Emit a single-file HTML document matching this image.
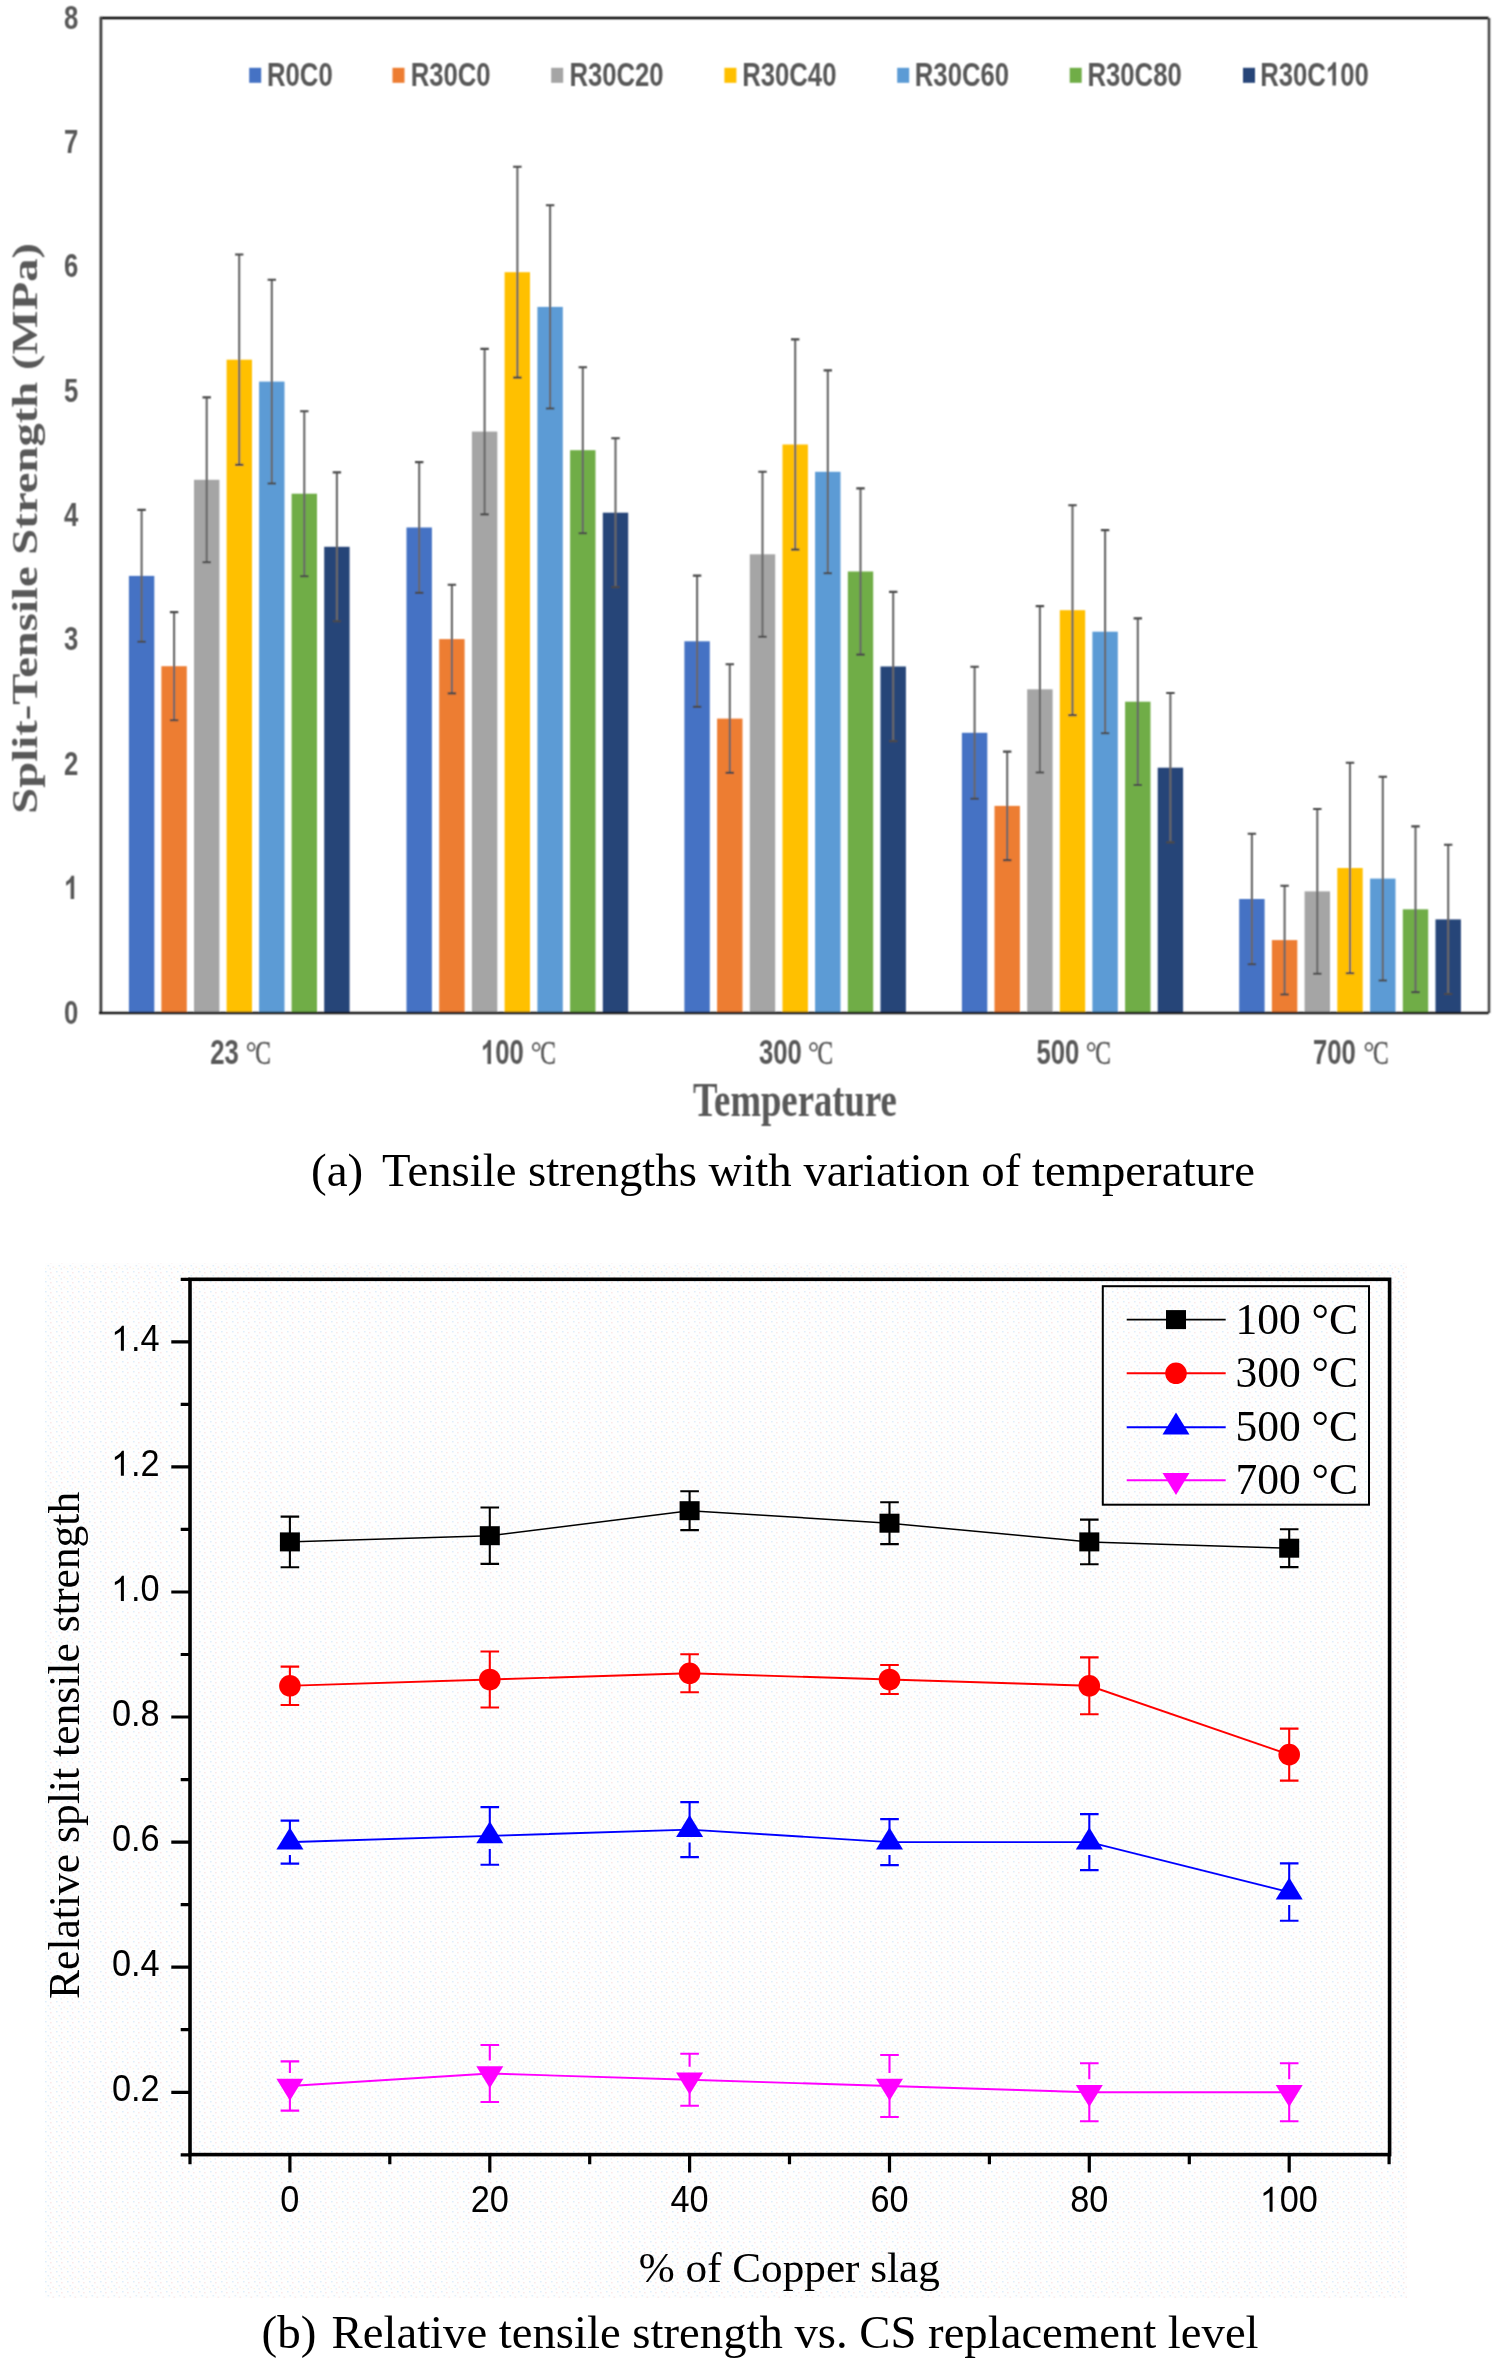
<!DOCTYPE html><html><head><meta charset="utf-8"><style>html,body{margin:0;padding:0;background:#fff;}svg{display:block;}</style></head><body>
<svg width="1494" height="2362" viewBox="0 0 1494 2362">
<rect x="0" y="0" width="1494" height="2362" fill="#ffffff"/>
<defs><filter id="soft" x="-2%" y="-2%" width="104%" height="104%"><feConvolveMatrix order="3" kernelMatrix="1 2 1 2 4 2 1 2 1" divisor="16" edgeMode="duplicate"/></filter></defs>
<g filter="url(#soft)">
<rect x="128.9" y="575.9" width="25.4" height="437.1" fill="#4472C4"/>
<rect x="161.4" y="666.2" width="25.4" height="346.8" fill="#ED7D31"/>
<rect x="194.0" y="479.8" width="25.4" height="533.2" fill="#A5A5A5"/>
<rect x="226.6" y="359.7" width="25.4" height="653.3" fill="#FFC000"/>
<rect x="259.1" y="381.6" width="25.4" height="631.4" fill="#5B9BD5"/>
<rect x="291.6" y="493.7" width="25.4" height="519.3" fill="#70AD47"/>
<rect x="324.2" y="546.8" width="25.4" height="466.2" fill="#264478"/>
<rect x="406.5" y="527.5" width="25.4" height="485.5" fill="#4472C4"/>
<rect x="439.2" y="639.1" width="25.4" height="373.9" fill="#ED7D31"/>
<rect x="471.9" y="431.6" width="25.4" height="581.4" fill="#A5A5A5"/>
<rect x="504.6" y="272.2" width="25.4" height="740.8" fill="#FFC000"/>
<rect x="537.4" y="306.9" width="25.4" height="706.1" fill="#5B9BD5"/>
<rect x="570.1" y="450.2" width="25.4" height="562.8" fill="#70AD47"/>
<rect x="602.8" y="512.7" width="25.4" height="500.3" fill="#264478"/>
<rect x="684.4" y="641.3" width="25.4" height="371.7" fill="#4472C4"/>
<rect x="717.1" y="718.6" width="25.4" height="294.4" fill="#ED7D31"/>
<rect x="749.8" y="554.3" width="25.4" height="458.7" fill="#A5A5A5"/>
<rect x="782.5" y="444.5" width="25.4" height="568.5" fill="#FFC000"/>
<rect x="815.1" y="471.8" width="25.4" height="541.2" fill="#5B9BD5"/>
<rect x="847.8" y="571.5" width="25.4" height="441.5" fill="#70AD47"/>
<rect x="880.5" y="666.5" width="25.4" height="346.5" fill="#264478"/>
<rect x="961.9" y="732.8" width="25.4" height="280.2" fill="#4472C4"/>
<rect x="994.5" y="805.9" width="25.4" height="207.1" fill="#ED7D31"/>
<rect x="1027.2" y="689.3" width="25.4" height="323.7" fill="#A5A5A5"/>
<rect x="1059.8" y="610.2" width="25.4" height="402.8" fill="#FFC000"/>
<rect x="1092.4" y="631.7" width="25.4" height="381.3" fill="#5B9BD5"/>
<rect x="1125.1" y="701.7" width="25.4" height="311.3" fill="#70AD47"/>
<rect x="1157.7" y="767.7" width="25.4" height="245.3" fill="#264478"/>
<rect x="1239.2" y="899.0" width="25.4" height="114.0" fill="#4472C4"/>
<rect x="1271.9" y="940.1" width="25.4" height="72.9" fill="#ED7D31"/>
<rect x="1304.6" y="891.4" width="25.4" height="121.6" fill="#A5A5A5"/>
<rect x="1337.3" y="868.0" width="25.4" height="145.0" fill="#FFC000"/>
<rect x="1370.1" y="878.6" width="25.4" height="134.4" fill="#5B9BD5"/>
<rect x="1402.8" y="909.3" width="25.4" height="103.7" fill="#70AD47"/>
<rect x="1435.5" y="919.4" width="25.4" height="93.6" fill="#264478"/>
<path d="M141.6 509.9V641.8 M174.1 612.1V720.3 M206.7 397.4V562.2 M239.2 254.5V464.9 M271.8 279.8V483.5 M304.3 411.2V576.2 M336.9 472.4V621.2 M419.2 462.1V592.9 M451.9 584.8V693.4 M484.6 348.9V514.4 M517.4 166.8V377.6 M550.1 205.2V408.5 M582.8 367.2V533.2 M615.5 438.3V587.1 M697.1 575.6V706.9 M729.8 664.3V772.9 M762.5 471.7V636.8 M795.2 339.4V549.6 M827.8 370.4V573.2 M860.5 488.4V654.6 M893.2 591.9V741.1 M974.6 666.8V798.8 M1007.2 751.6V860.1 M1039.9 606.1V772.5 M1072.5 505.3V715.1 M1105.1 530.1V733.3 M1137.8 618.4V785.0 M1170.4 693.0V842.4 M1251.9 833.8V964.2 M1284.6 885.7V994.5 M1317.3 809.0V973.8 M1350.0 762.8V973.2 M1382.8 776.8V980.5 M1415.5 826.4V992.1 M1448.2 844.8V994.0" stroke="#686868" stroke-width="2.1" fill="none"/>
<path d="M137.4 509.9H145.8M137.4 641.8H145.8 M169.9 612.1H178.3M169.9 720.3H178.3 M202.5 397.4H210.9M202.5 562.2H210.9 M235.1 254.5H243.4M235.1 464.9H243.4 M267.6 279.8H276.0M267.6 483.5H276.0 M300.1 411.2H308.5M300.1 576.2H308.5 M332.7 472.4H341.1M332.7 621.2H341.1 M415.0 462.1H423.4M415.0 592.9H423.4 M447.7 584.8H456.1M447.7 693.4H456.1 M480.4 348.9H488.8M480.4 514.4H488.8 M513.1 166.8H521.6M513.1 377.6H521.6 M545.9 205.2H554.3M545.9 408.5H554.3 M578.6 367.2H587.0M578.6 533.2H587.0 M611.3 438.3H619.7M611.3 587.1H619.7 M692.9 575.6H701.3M692.9 706.9H701.3 M725.6 664.3H734.0M725.6 772.9H734.0 M758.3 471.7H766.7M758.3 636.8H766.7 M791.0 339.4H799.4M791.0 549.6H799.4 M823.6 370.4H832.0M823.6 573.2H832.0 M856.3 488.4H864.7M856.3 654.6H864.7 M889.0 591.9H897.4M889.0 741.1H897.4 M970.4 666.8H978.8M970.4 798.8H978.8 M1003.0 751.6H1011.4M1003.0 860.1H1011.4 M1035.7 606.1H1044.1M1035.7 772.5H1044.1 M1068.3 505.3H1076.7M1068.3 715.1H1076.7 M1100.9 530.1H1109.3M1100.9 733.3H1109.3 M1133.6 618.4H1142.0M1133.6 785.0H1142.0 M1166.2 693.0H1174.6M1166.2 842.4H1174.6 M1247.7 833.8H1256.1M1247.7 964.2H1256.1 M1280.4 885.7H1288.8M1280.4 994.5H1288.8 M1313.1 809.0H1321.5M1313.1 973.8H1321.5 M1345.8 762.8H1354.2M1345.8 973.2H1354.2 M1378.6 776.8H1387.0M1378.6 980.5H1387.0 M1411.3 826.4H1419.7M1411.3 992.1H1419.7 M1444.0 844.8H1452.4M1444.0 994.0H1452.4" stroke="#484848" stroke-width="2.1" fill="none"/>
<path d="M100.5 18.0H1488.6" stroke="#111" stroke-width="2.7" fill="none"/>
<path d="M1489 18.0V1013.0" stroke="#4a4a4a" stroke-width="2.6" fill="none"/>
<path d="M100.9 16.7V1013.0" stroke="#404040" stroke-width="2.8" fill="none"/>
<path d="M99.0 1013.0H1488.6" stroke="#1a1a1a" stroke-width="2.7" fill="none"/>
<text transform="translate(64.10 1023.50) scale(1 1.32)" font-family="Liberation Sans" font-weight="bold" font-size="25.7" fill="#595959" style="font-kerning:none">0</text>
<path transform="translate(64.10 899.12) scale(0.01255 -0.01586)" d="M801 0H520V1059Q366 915 160 846V1101Q270 1137 399 1237Q528 1338 576 1472H801Z" fill="#595959"/>
<text transform="translate(64.10 774.75) scale(1 1.32)" font-family="Liberation Sans" font-weight="bold" font-size="25.7" fill="#595959" style="font-kerning:none">2</text>
<text transform="translate(64.10 650.38) scale(1 1.32)" font-family="Liberation Sans" font-weight="bold" font-size="25.7" fill="#595959" style="font-kerning:none">3</text>
<text transform="translate(64.10 526.00) scale(1 1.32)" font-family="Liberation Sans" font-weight="bold" font-size="25.7" fill="#595959" style="font-kerning:none">4</text>
<text transform="translate(64.10 401.62) scale(1 1.32)" font-family="Liberation Sans" font-weight="bold" font-size="25.7" fill="#595959" style="font-kerning:none">5</text>
<text transform="translate(64.10 277.25) scale(1 1.32)" font-family="Liberation Sans" font-weight="bold" font-size="25.7" fill="#595959" style="font-kerning:none">6</text>
<text transform="translate(64.10 152.88) scale(1 1.32)" font-family="Liberation Sans" font-weight="bold" font-size="25.7" fill="#595959" style="font-kerning:none">7</text>
<text transform="translate(64.10 28.50) scale(1 1.32)" font-family="Liberation Sans" font-weight="bold" font-size="25.7" fill="#595959" style="font-kerning:none">8</text>
<rect x="249.2" y="67.8" width="12" height="15" fill="#4472C4"/>
<text transform="translate(267.00 85.60) scale(1 1.32)" font-family="Liberation Sans" font-weight="bold" font-size="25.7" fill="#595959" style="font-kerning:none">R0C0</text>
<rect x="392.5" y="67.8" width="12" height="15" fill="#ED7D31"/>
<text transform="translate(410.70 85.60) scale(1 1.32)" font-family="Liberation Sans" font-weight="bold" font-size="25.7" fill="#595959" style="font-kerning:none">R30C0</text>
<rect x="551.2" y="67.8" width="12" height="15" fill="#A5A5A5"/>
<text transform="translate(569.40 85.60) scale(1 1.32)" font-family="Liberation Sans" font-weight="bold" font-size="25.7" fill="#595959" style="font-kerning:none">R30C20</text>
<rect x="724.4" y="67.8" width="12" height="15" fill="#FFC000"/>
<text transform="translate(742.20 85.60) scale(1 1.32)" font-family="Liberation Sans" font-weight="bold" font-size="25.7" fill="#595959" style="font-kerning:none">R30C40</text>
<rect x="897.2" y="67.8" width="12" height="15" fill="#5B9BD5"/>
<text transform="translate(914.80 85.60) scale(1 1.32)" font-family="Liberation Sans" font-weight="bold" font-size="25.7" fill="#595959" style="font-kerning:none">R30C60</text>
<rect x="1069.7" y="67.8" width="12" height="15" fill="#70AD47"/>
<text transform="translate(1087.50 85.60) scale(1 1.32)" font-family="Liberation Sans" font-weight="bold" font-size="25.7" fill="#595959" style="font-kerning:none">R30C80</text>
<rect x="1243.0" y="67.8" width="12" height="15" fill="#264478"/>
<text transform="translate(1260.20 85.60) scale(1 1.32)" font-family="Liberation Sans" font-weight="bold" font-size="25.7" fill="#595959" style="font-kerning:none">R30C</text>
<path transform="translate(1325.91 85.60) scale(0.01255 -0.01586)" d="M801 0H520V1059Q366 915 160 846V1101Q270 1137 399 1237Q528 1338 576 1472H801Z" fill="#595959"/>
<text transform="translate(1340.20 85.60) scale(1 1.32)" font-family="Liberation Sans" font-weight="bold" font-size="25.7" fill="#595959" style="font-kerning:none">00</text>
<text transform="translate(210.33 1064.10) scale(1 1.36)" font-family="Liberation Sans" font-weight="bold" font-size="25.7" fill="#595959" style="font-kerning:none">23</text>
<ellipse cx="251.2" cy="1046.9" rx="3.45" ry="3.8" fill="none" stroke="#595959" stroke-width="1.7"/>
<text transform="translate(255.3 1064.1) scale(0.9 1.286)" font-family="Liberation Serif" font-size="26" fill="#595959" stroke="#595959" stroke-width="0.4">C</text>
<path transform="translate(480.96 1064.10) scale(0.01255 -0.01634)" d="M801 0H520V1059Q366 915 160 846V1101Q270 1137 399 1237Q528 1338 576 1472H801Z" fill="#595959"/>
<text transform="translate(495.25 1064.10) scale(1 1.36)" font-family="Liberation Sans" font-weight="bold" font-size="25.7" fill="#595959" style="font-kerning:none">00</text>
<ellipse cx="536.2" cy="1046.9" rx="3.45" ry="3.8" fill="none" stroke="#595959" stroke-width="1.7"/>
<text transform="translate(540.3 1064.1) scale(0.9 1.286)" font-family="Liberation Serif" font-size="26" fill="#595959" stroke="#595959" stroke-width="0.4">C</text>
<text transform="translate(758.89 1064.10) scale(1 1.36)" font-family="Liberation Sans" font-weight="bold" font-size="25.7" fill="#595959" style="font-kerning:none">300</text>
<ellipse cx="813.5" cy="1046.9" rx="3.45" ry="3.8" fill="none" stroke="#595959" stroke-width="1.7"/>
<text transform="translate(817.6 1064.1) scale(0.9 1.286)" font-family="Liberation Serif" font-size="26" fill="#595959" stroke="#595959" stroke-width="0.4">C</text>
<text transform="translate(1036.43 1064.10) scale(1 1.36)" font-family="Liberation Sans" font-weight="bold" font-size="25.7" fill="#595959" style="font-kerning:none">500</text>
<ellipse cx="1091.2" cy="1046.9" rx="3.45" ry="3.8" fill="none" stroke="#595959" stroke-width="1.7"/>
<text transform="translate(1095.3 1064.1) scale(0.9 1.286)" font-family="Liberation Serif" font-size="26" fill="#595959" stroke="#595959" stroke-width="0.4">C</text>
<text transform="translate(1312.97 1064.10) scale(1 1.36)" font-family="Liberation Sans" font-weight="bold" font-size="25.7" fill="#595959" style="font-kerning:none">700</text>
<ellipse cx="1368.9" cy="1046.9" rx="3.45" ry="3.8" fill="none" stroke="#595959" stroke-width="1.7"/>
<text transform="translate(1373.0 1064.1) scale(0.9 1.286)" font-family="Liberation Serif" font-size="26" fill="#595959" stroke="#595959" stroke-width="0.4">C</text>
<text transform="translate(794.9 1116.2) scale(1 1.3)" text-anchor="middle" font-family="Liberation Serif" font-weight="bold" font-size="36.7" fill="#595959">Temperature</text>
<text transform="translate(37 528.4) rotate(-90) scale(1.28 1)" text-anchor="middle" font-family="Liberation Serif" font-weight="bold" font-size="36.5" fill="#595959">Split-Tensile Strength (MPa)</text>
</g>
<text x="311.1" y="1185.5" font-family="Liberation Serif" font-size="47" fill="#000">(a)</text>
<text x="382.1" y="1185.5" font-family="Liberation Serif" font-size="46.75" fill="#000">Tensile strengths with variation of temperature</text>
<defs><pattern id="nz" x="0" y="0" width="11" height="10" patternUnits="userSpaceOnUse"><rect width="11" height="10" fill="#fefefe"/><rect x="1" y="1" width="1.6" height="1.4" fill="#dfeefb"/><rect x="6" y="2" width="1.6" height="1.4" fill="#fbe8e8"/><rect x="3.5" y="5" width="1.6" height="1.4" fill="#e0effb"/><rect x="8.5" y="6.5" width="1.6" height="1.4" fill="#fae9e9"/><rect x="0.5" y="8" width="1.4" height="1.2" fill="#fbf6dc"/><rect x="5.5" y="8.3" width="1.5" height="1.3" fill="#dfeefa"/></pattern></defs>
<rect x="45" y="1263" width="1362" height="1035" fill="url(#nz)"/>
<path d="M171.3 2092.3H190.0 M171.3 1967.2H190.0 M171.3 1842.1H190.0 M171.3 1717.0H190.0 M171.3 1592.0H190.0 M171.3 1466.9H190.0 M171.3 1341.8H190.0 M180.7 2154.8H190.0 M180.7 2029.7H190.0 M180.7 1904.7H190.0 M180.7 1779.6H190.0 M180.7 1654.5H190.0 M180.7 1529.4H190.0 M180.7 1404.4H190.0 M180.7 1279.3H190.0 M289.9 2154.6V2172.6 M489.8 2154.6V2172.6 M689.6 2154.6V2172.6 M889.5 2154.6V2172.6 M1089.3 2154.6V2172.6 M1289.2 2154.6V2172.6 M190.0 2154.6V2164.2 M389.8 2154.6V2164.2 M589.7 2154.6V2164.2 M789.5 2154.6V2164.2 M989.4 2154.6V2164.2 M1189.3 2154.6V2164.2 M1389.1 2154.6V2164.2" stroke="#000" stroke-width="3.2" fill="none"/>
<rect x="190.0" y="1279.3" width="1199.6" height="875.3" fill="none" stroke="#000" stroke-width="3.6"/>
<text transform="translate(111.92 2101.16) scale(1 1.06)" font-family="Liberation Sans" font-size="34.3" fill="#000" style="font-kerning:none">0.2</text>
<text transform="translate(111.92 1976.09) scale(1 1.06)" font-family="Liberation Sans" font-size="34.3" fill="#000" style="font-kerning:none">0.4</text>
<text transform="translate(111.92 1851.02) scale(1 1.06)" font-family="Liberation Sans" font-size="34.3" fill="#000" style="font-kerning:none">0.6</text>
<text transform="translate(111.92 1725.95) scale(1 1.06)" font-family="Liberation Sans" font-size="34.3" fill="#000" style="font-kerning:none">0.8</text>
<path transform="translate(111.92 1600.88) scale(0.01675 -0.01699)" d="M715 0H535V1147Q470 1085 365 1023Q259 961 175 930V1104Q326 1175 439 1276Q552 1377 599 1472H715Z" fill="#000"/>
<text transform="translate(130.99 1600.88) scale(1 1.06)" font-family="Liberation Sans" font-size="34.3" fill="#000" style="font-kerning:none">.0</text>
<path transform="translate(111.92 1475.80) scale(0.01675 -0.01699)" d="M715 0H535V1147Q470 1085 365 1023Q259 961 175 930V1104Q326 1175 439 1276Q552 1377 599 1472H715Z" fill="#000"/>
<text transform="translate(130.99 1475.80) scale(1 1.06)" font-family="Liberation Sans" font-size="34.3" fill="#000" style="font-kerning:none">.2</text>
<path transform="translate(111.92 1350.73) scale(0.01675 -0.01699)" d="M715 0H535V1147Q470 1085 365 1023Q259 961 175 930V1104Q326 1175 439 1276Q552 1377 599 1472H715Z" fill="#000"/>
<text transform="translate(130.99 1350.73) scale(1 1.06)" font-family="Liberation Sans" font-size="34.3" fill="#000" style="font-kerning:none">.4</text>
<text transform="translate(280.36 2211.70) scale(1 1.06)" font-family="Liberation Sans" font-size="34.3" fill="#000" style="font-kerning:none">0</text>
<text transform="translate(470.68 2211.70) scale(1 1.06)" font-family="Liberation Sans" font-size="34.3" fill="#000" style="font-kerning:none">20</text>
<text transform="translate(670.54 2211.70) scale(1 1.06)" font-family="Liberation Sans" font-size="34.3" fill="#000" style="font-kerning:none">40</text>
<text transform="translate(870.40 2211.70) scale(1 1.06)" font-family="Liberation Sans" font-size="34.3" fill="#000" style="font-kerning:none">60</text>
<text transform="translate(1070.26 2211.70) scale(1 1.06)" font-family="Liberation Sans" font-size="34.3" fill="#000" style="font-kerning:none">80</text>
<path transform="translate(1260.59 2211.70) scale(0.01675 -0.01699)" d="M715 0H535V1147Q470 1085 365 1023Q259 961 175 930V1104Q326 1175 439 1276Q552 1377 599 1472H715Z" fill="#000"/>
<text transform="translate(1279.66 2211.70) scale(1 1.06)" font-family="Liberation Sans" font-size="34.3" fill="#000" style="font-kerning:none">00</text>
<polyline points="289.9,1541.9 489.8,1535.7 689.6,1510.7 889.5,1523.2 1089.3,1541.9 1289.2,1548.2" fill="none" stroke="#000000" stroke-width="1.5"/>
<path d="M289.9 1516.6V1567.2 M280.6 1516.6H299.2M280.6 1567.2H299.2 M489.8 1507.5V1563.9 M480.5 1507.5H499.1M480.5 1563.9H499.1 M689.6 1491.3V1530.1 M680.3 1491.3H698.9M680.3 1530.1H698.9 M889.5 1502.3V1544.1 M880.2 1502.3H898.8M880.2 1544.1H898.8 M1089.3 1519.6V1564.2 M1080.0 1519.6H1098.6M1080.0 1564.2H1098.6 M1289.2 1529.3V1567.1 M1279.9 1529.3H1298.5M1279.9 1567.1H1298.5" stroke="#000000" stroke-width="2.1" fill="none"/>
<rect x="279.9" y="1532.4" width="20" height="19" fill="#000000"/>
<rect x="479.8" y="1526.2" width="20" height="19" fill="#000000"/>
<rect x="679.6" y="1501.2" width="20" height="19" fill="#000000"/>
<rect x="879.5" y="1513.7" width="20" height="19" fill="#000000"/>
<rect x="1079.3" y="1532.4" width="20" height="19" fill="#000000"/>
<rect x="1279.2" y="1538.7" width="20" height="19" fill="#000000"/>
<polyline points="289.9,1685.8 489.8,1679.5 689.6,1673.3 889.5,1679.5 1089.3,1685.8 1289.2,1754.6" fill="none" stroke="#ff0000" stroke-width="1.9"/>
<path d="M289.9 1666.6V1705.0 M280.6 1666.6H299.2M280.6 1705.0H299.2 M489.8 1651.5V1707.5 M480.5 1651.5H499.1M480.5 1707.5H499.1 M689.6 1654.3V1692.3 M680.3 1654.3H698.9M680.3 1692.3H698.9 M889.5 1665.0V1694.0 M880.2 1665.0H898.8M880.2 1694.0H898.8 M1089.3 1657.4V1714.2 M1080.0 1657.4H1098.6M1080.0 1714.2H1098.6 M1289.2 1728.6V1780.6 M1279.9 1728.6H1298.5M1279.9 1780.6H1298.5" stroke="#ff0000" stroke-width="2.1" fill="none"/>
<circle cx="289.9" cy="1685.8" r="10.8" fill="#ff0000"/>
<circle cx="489.8" cy="1679.5" r="10.8" fill="#ff0000"/>
<circle cx="689.6" cy="1673.3" r="10.8" fill="#ff0000"/>
<circle cx="889.5" cy="1679.5" r="10.8" fill="#ff0000"/>
<circle cx="1089.3" cy="1685.8" r="10.8" fill="#ff0000"/>
<circle cx="1289.2" cy="1754.6" r="10.8" fill="#ff0000"/>
<polyline points="289.9,1842.1 489.8,1835.9 689.6,1829.6 889.5,1842.1 1089.3,1842.1 1289.2,1892.1" fill="none" stroke="#0000ff" stroke-width="1.9"/>
<path d="M289.9 1820.6V1842.1M289.9 1855.1V1863.6 M280.6 1820.6H299.2M280.6 1863.6H299.2 M489.8 1807.1V1835.9M489.8 1848.9V1864.7 M480.5 1807.1H499.1M480.5 1864.7H499.1 M689.6 1802.1V1829.6M689.6 1842.6V1857.1 M680.3 1802.1H698.9M680.3 1857.1H698.9 M889.5 1819.1V1842.1M889.5 1855.1V1865.1 M880.2 1819.1H898.8M880.2 1865.1H898.8 M1089.3 1814.1V1842.1M1089.3 1855.1V1870.1 M1080.0 1814.1H1098.6M1080.0 1870.1H1098.6 M1289.2 1863.4V1892.1M1289.2 1905.1V1920.8 M1279.9 1863.4H1298.5M1279.9 1920.8H1298.5" stroke="#0000ff" stroke-width="2.1" fill="none"/>
<path d="M289.9 1827.4L303.4 1849.4L276.4 1849.4Z" fill="#0000ff"/>
<path d="M489.8 1821.2L503.3 1843.2L476.3 1843.2Z" fill="#0000ff"/>
<path d="M689.6 1814.9L703.1 1836.9L676.1 1836.9Z" fill="#0000ff"/>
<path d="M889.5 1827.4L903.0 1849.4L876.0 1849.4Z" fill="#0000ff"/>
<path d="M1089.3 1827.4L1102.8 1849.4L1075.8 1849.4Z" fill="#0000ff"/>
<path d="M1289.2 1877.4L1302.7 1899.4L1275.7 1899.4Z" fill="#0000ff"/>
<polyline points="289.9,2086.0 489.8,2073.5 689.6,2079.8 889.5,2086.0 1089.3,2092.3 1289.2,2092.3" fill="none" stroke="#ff00ff" stroke-width="1.9"/>
<path d="M289.9 2061.4V2073.0M289.9 2086.0V2110.6 M280.6 2061.4H299.2M280.6 2110.6H299.2 M489.8 2045.0V2060.5M489.8 2073.5V2102.0 M480.5 2045.0H499.1M480.5 2102.0H499.1 M689.6 2053.8V2066.8M689.6 2079.8V2105.8 M680.3 2053.8H698.9M680.3 2105.8H698.9 M889.5 2055.0V2073.0M889.5 2086.0V2117.0 M880.2 2055.0H898.8M880.2 2117.0H898.8 M1089.3 2063.3V2079.3M1089.3 2092.3V2121.3 M1080.0 2063.3H1098.6M1080.0 2121.3H1098.6 M1289.2 2063.3V2079.3M1289.2 2092.3V2121.3 M1279.9 2063.3H1298.5M1279.9 2121.3H1298.5" stroke="#ff00ff" stroke-width="2.1" fill="none"/>
<path d="M289.9 2100.7L303.4 2078.7L276.4 2078.7Z" fill="#ff00ff"/>
<path d="M489.8 2088.2L503.3 2066.2L476.3 2066.2Z" fill="#ff00ff"/>
<path d="M689.6 2094.5L703.1 2072.5L676.1 2072.5Z" fill="#ff00ff"/>
<path d="M889.5 2100.7L903.0 2078.7L876.0 2078.7Z" fill="#ff00ff"/>
<path d="M1089.3 2107.0L1102.8 2085.0L1075.8 2085.0Z" fill="#ff00ff"/>
<path d="M1289.2 2107.0L1302.7 2085.0L1275.7 2085.0Z" fill="#ff00ff"/>
<rect x="1102.8" y="1286.2" width="266.2" height="218.5" fill="none" stroke="#000" stroke-width="2"/>
<path d="M1126.7 1319.6H1225.7" stroke="#000000" stroke-width="1.6"/>
<rect x="1166.0" y="1310.1" width="20" height="19" fill="#000000"/>
<text x="1235.4" y="1333.5" font-family="Liberation Serif" font-size="43.5" fill="#000">100 °C</text>
<path d="M1126.7 1373.3H1225.7" stroke="#ff0000" stroke-width="2"/>
<circle cx="1176.0" cy="1373.3" r="10.8" fill="#ff0000"/>
<text x="1235.4" y="1387.0" font-family="Liberation Serif" font-size="43.5" fill="#000">300 °C</text>
<path d="M1126.7 1427.3H1225.7" stroke="#0000ff" stroke-width="2"/>
<path d="M1176.0 1412.6L1189.5 1434.6L1162.5 1434.6Z" fill="#0000ff"/>
<text x="1235.4" y="1440.6" font-family="Liberation Serif" font-size="43.5" fill="#000">500 °C</text>
<path d="M1126.7 1480.3H1225.7" stroke="#ff00ff" stroke-width="2"/>
<path d="M1176.0 1495.0L1189.5 1473.0L1162.5 1473.0Z" fill="#ff00ff"/>
<text x="1235.4" y="1494.0" font-family="Liberation Serif" font-size="43.5" fill="#000">700 °C</text>
<text transform="translate(79.2 1745.4) rotate(-90)" text-anchor="middle" font-family="Liberation Serif" font-size="43.6" fill="#000">Relative split tensile strength</text>
<text x="789.3" y="2281.9" text-anchor="middle" font-family="Liberation Serif" font-size="43.2" fill="#000">% of Copper slag</text>
<text x="261.5" y="2347.5" font-family="Liberation Serif" font-size="47" fill="#000">(b)</text>
<text x="331.6" y="2347.5" font-family="Liberation Serif" font-size="46.7" fill="#000">Relative tensile strength vs. CS replacement level</text>
</svg></body></html>
